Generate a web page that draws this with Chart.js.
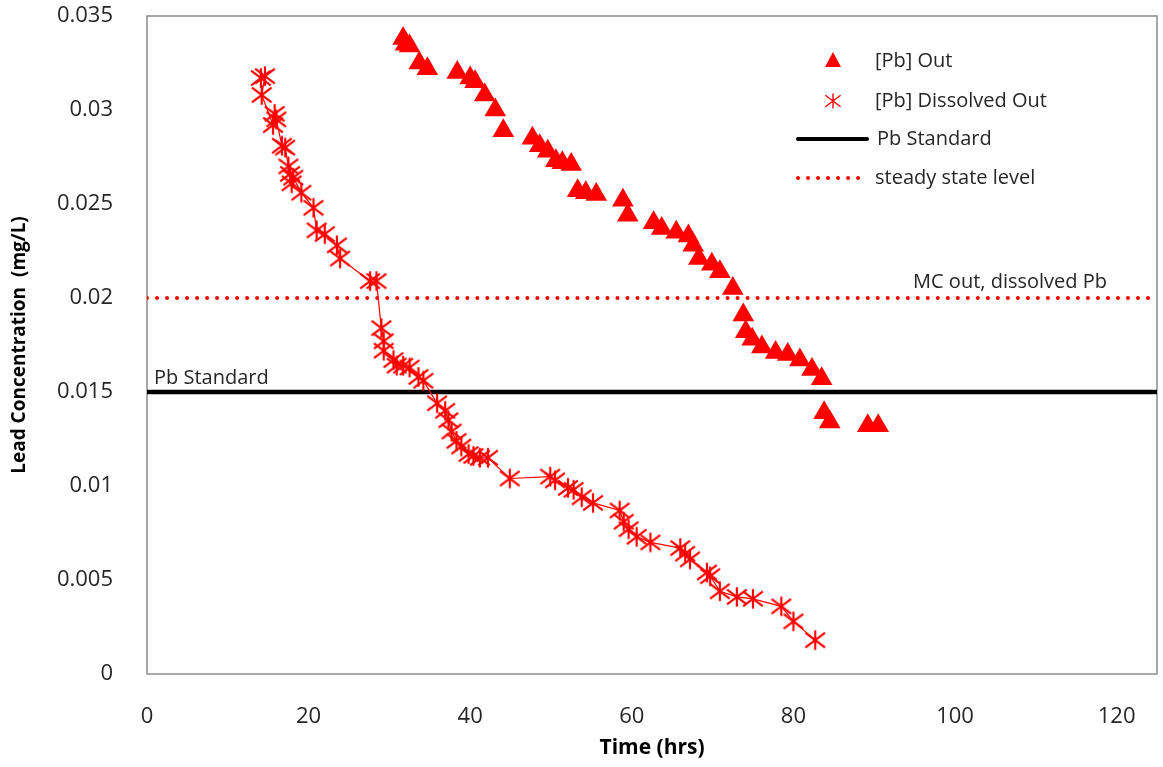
<!DOCTYPE html>
<html lang="en">
<head>
    <meta charset="UTF-8">
    <title>Lead Concentration vs Time</title>
    <script src="https://cdn.jsdelivr.net/npm/chart.js"></script>
    <style>
        body { margin: 0; background: #fff; }
    </style>
</head>
<body>
    <canvas id="leadChart" width="1163" height="767"></canvas>

    <script>
        // [Pb] Out (triangles)
        const outTime = [31.7, 32.0, 32.5, 33.7, 34.7, 38.4, 40.0, 40.6, 41.8, 43.1, 44.1, 47.7, 48.6, 49.6, 50.6, 51.4, 52.5,
            53.3, 54.3, 55.6, 58.9, 59.5, 62.7, 63.7, 65.5, 67.0, 67.6, 68.3, 69.9, 70.9, 72.5, 73.8, 74.1, 74.9,
            76.1, 77.8, 79.3, 80.8, 82.3, 83.5, 83.8, 84.5, 89.2, 90.5];
        const outConc = [0.0338, 0.0335, 0.0334, 0.0325, 0.0322, 0.0320, 0.0317, 0.0315, 0.0308, 0.0300, 0.0289, 0.0285, 0.0281,
            0.0278, 0.0273, 0.0272, 0.0271, 0.0257, 0.0256, 0.0255, 0.0252, 0.0244, 0.0240, 0.0237, 0.0235, 0.0233,
            0.0228, 0.0221, 0.0218, 0.0214, 0.0205, 0.0191, 0.0182, 0.0178, 0.0174, 0.0171, 0.0170, 0.0167, 0.0162,
            0.0157, 0.0139, 0.0134, 0.0132, 0.0132];

        // [Pb] Dissolved Out (asterisks)
        const dissTime = [14.1, 14.6, 14.2, 15.6, 15.8, 16.0, 16.7, 17.1, 17.5, 17.7, 17.9, 18.1, 19.1, 20.6, 21.0, 22.0, 23.5,
            23.9, 27.6, 28.4, 29.0, 29.3, 29.3, 30.5, 30.9, 31.7, 32.5, 33.6, 34.2, 35.9, 36.9, 37.3, 37.7, 38.3,
            38.9, 39.8, 40.4, 41.2, 42.2, 44.9, 49.9, 50.5, 52.1, 52.8, 53.8, 55.2, 58.5, 59.0, 59.6, 60.6, 62.3,
            66.0, 66.6, 67.2, 69.3, 69.7, 70.9, 73.0, 75.0, 78.5, 80.0, 82.7];
        const dissConc = [0.0317, 0.0318, 0.0308, 0.0292, 0.0298, 0.0295, 0.0281, 0.0280, 0.0270, 0.0266, 0.0261, 0.0264, 0.0256,
            0.0248, 0.0236, 0.0234, 0.0228, 0.0221, 0.0209, 0.0209, 0.0184, 0.0177, 0.0172, 0.0167, 0.0164, 0.0164,
            0.0163, 0.0158, 0.0156, 0.0144, 0.0140, 0.0135, 0.0129, 0.0124, 0.0121, 0.0117, 0.0116, 0.0115, 0.0115,
            0.0104, 0.0105, 0.0103, 0.0099, 0.0098, 0.0094, 0.0091, 0.0087, 0.0081, 0.0077, 0.0073, 0.0070, 0.0067,
            0.0064, 0.0061, 0.0054, 0.0052, 0.0044, 0.0041, 0.0040, 0.0036, 0.0028, 0.0018];

        const pbStandard = 0.015;
        const steadyState = 0.02;
        const xRange = [0, 125];

        const xTicks = [0, 20, 40, 60, 80, 100, 120];
        const yTicks = [0, 0.005, 0.01, 0.015, 0.02, 0.025, 0.03, 0.035];
        const yTickLabels = ['0', '0.005', '0.01', '0.015', '0.02', '0.025', '0.03', '0.035'];

        const RED = '#ff0000';
        const TEXT = '#262626';
        const FONT = '"Open Sans", "Noto Sans", sans-serif';

        // excel-ish asterisk marker: an X plus a vertical stroke
        function makeAsterisk(size, lw) {
            const c = document.createElement('canvas');
            c.width = size; c.height = size;
            const g = c.getContext('2d');
            const m = size / 2, r = size / 2 - lw;
            g.strokeStyle = RED;
            g.lineWidth = lw;
            g.beginPath();
            g.moveTo(m - r, m - r * 0.75); g.lineTo(m + r, m + r * 0.75);
            g.moveTo(m + r, m - r * 0.75); g.lineTo(m - r, m + r * 0.75);
            g.moveTo(m, m - r); g.lineTo(m, m + r);
            g.stroke();
            return c;
        }
        const asterisk = makeAsterisk(24, 2.2);
        const asteriskSmall = makeAsterisk(18, 1.4);

        const toPoints = (xs, ys) => xs.map((x, i) => ({ x: x, y: ys[i] }));

        // plot frame, annotations and the in-plot legend
        const decorations = {
            id: 'decorations',
            beforeDatasetsDraw(chart) {
                const { ctx, chartArea: a } = chart;
                ctx.save();
                ctx.strokeStyle = '#8c8c8c';
                ctx.lineWidth = 1.5;
                ctx.strokeRect(a.left, a.top, a.right - a.left, a.bottom - a.top);
                ctx.restore();
            },
            afterDatasetsDraw(chart) {
                const { ctx, scales } = chart;
                const x = scales.x, y = scales.y;
                ctx.save();
                ctx.fillStyle = TEXT;
                ctx.font = '20px ' + FONT;
                ctx.textBaseline = 'alphabetic';
                ctx.textAlign = 'left';
                ctx.fillText('Pb Standard', x.left + 7, y.getPixelForValue(pbStandard) - 8);
                ctx.textAlign = 'right';
                ctx.fillText('MC out, dissolved Pb', 1107, y.getPixelForValue(steadyState) - 10);

                // legend
                ctx.textAlign = 'left';
                ctx.textBaseline = 'middle';
                const lx = 833;
                ctx.fillStyle = RED;
                ctx.beginPath();
                ctx.moveTo(lx, 52); ctx.lineTo(lx + 8, 67); ctx.lineTo(lx - 8, 67);
                ctx.closePath(); ctx.fill();
                ctx.drawImage(asteriskSmall, lx - 9, 101 - 9);
                ctx.strokeStyle = '#000';
                ctx.lineWidth = 4;
                ctx.lineCap = 'round';
                ctx.beginPath(); ctx.moveTo(798, 139); ctx.lineTo(867, 139); ctx.stroke();
                ctx.strokeStyle = RED;
                ctx.lineWidth = 4;
                ctx.setLineDash([0.01, 10]);
                ctx.beginPath(); ctx.moveTo(798, 178); ctx.lineTo(862, 178); ctx.stroke();
                ctx.setLineDash([]);
                ctx.fillStyle = TEXT;
                ctx.fillText('[Pb] Out', 875, 61);
                ctx.fillText('[Pb] Dissolved Out', 875, 101);
                ctx.fillText('Pb Standard', 877, 139);
                ctx.fillText('steady state level', 875, 178);
                ctx.restore();
            }
        };

        const ctx = document.getElementById('leadChart').getContext('2d');
        const leadChart = new Chart(ctx, {
            type: 'scatter',
            data: {
                datasets: [
                    {
                        label: '[Pb] Out',
                        data: toPoints(outTime, outConc),
                        pointStyle: 'triangle',
                        pointRadius: 12.5,
                        backgroundColor: RED,
                        borderColor: RED,
                        borderWidth: 0,
                        order: 0
                    },
                    {
                        label: '[Pb] Dissolved Out',
                        data: toPoints(dissTime, dissConc),
                        pointStyle: asterisk,
                        showLine: true,
                        borderColor: RED,
                        borderWidth: 1.2,
                        order: 1
                    },
                    {
                        label: 'Pb Standard',
                        data: toPoints(xRange, [pbStandard, pbStandard]),
                        showLine: true,
                        pointRadius: 0,
                        borderColor: '#000',
                        borderWidth: 4.5,
                        order: 3
                    },
                    {
                        label: 'steady state level',
                        data: toPoints(xRange, [steadyState, steadyState]),
                        showLine: true,
                        pointRadius: 0,
                        borderColor: RED,
                        borderWidth: 4,
                        borderDash: [0.01, 10],
                        borderCapStyle: 'round',
                        order: 2
                    }
                ]
            },
            options: {
                responsive: false,
                animation: false,
                layout: { autoPadding: false, padding: { top: 16, right: 6, left: 0, bottom: 0 } },
                plugins: {
                    legend: { display: false },
                    tooltip: { enabled: false }
                },
                scales: {
                    x: {
                        type: 'linear',
                        min: xRange[0],
                        max: xRange[1],
                        afterFit(scale) {
                            scale.height = 93;
                            scale.paddingLeft = 0;
                            scale.paddingRight = 0;
                        },
                        afterBuildTicks(scale) { scale.ticks = xTicks.map(v => ({ value: v })); },
                        grid: { display: false },
                        border: { display: false },
                        ticks: {
                            padding: 22,
                            color: TEXT,
                            font: { family: FONT, size: 22 },
                            maxRotation: 0
                        },
                        title: {
                            display: true,
                            text: 'Time (hrs)',
                            color: '#000',
                            font: { family: FONT, size: 21, weight: 'bold' },
                            padding: { top: 0, bottom: 6 }
                        }
                    },
                    y: {
                        min: 0,
                        max: 0.035,
                        afterFit(scale) {
                            scale.width = 147;
                            scale.paddingTop = 0;
                            scale.paddingBottom = 0;
                        },
                        afterBuildTicks(scale) { scale.ticks = yTicks.map(v => ({ value: v })); },
                        grid: { display: false },
                        border: { display: false },
                        ticks: {
                            padding: 26,
                            color: TEXT,
                            font: { family: FONT, size: 22 },
                            callback: (v, i) => yTickLabels[i]
                        },
                        title: {
                            display: true,
                            text: 'Lead Concentration  (mg/L)',
                            color: '#000',
                            font: { family: FONT, size: 19, weight: 'bold' },
                            padding: { top: 8, bottom: 0 }
                        }
                    }
                }
            },
            plugins: [decorations]
        });
    </script>
</body>
</html>
